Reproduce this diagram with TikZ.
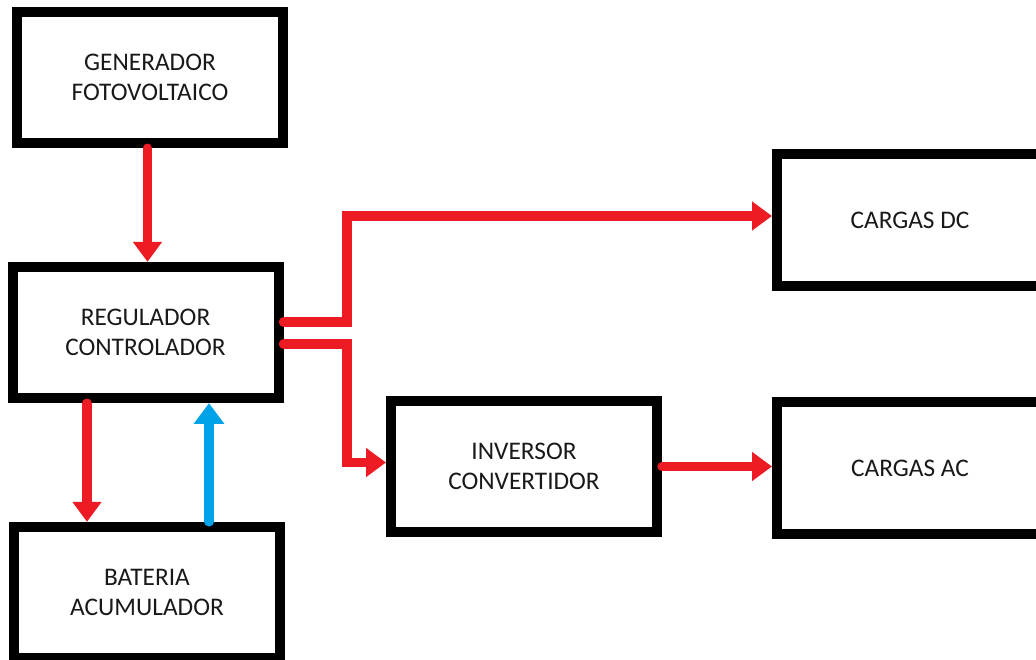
\documentclass[tikz,border=0pt]{standalone}
\usepackage{fontspec}
\setmainfont{Carlito}
\usepackage{tikz}
\usetikzlibrary{arrows.meta,positioning,calc}
\definecolor{rojo}{HTML}{ED1C24}
\definecolor{azul}{HTML}{00A2E8}

\begin{document}
\begin{tikzpicture}[yscale=-1, x=0.75pt, y=0.75pt,
  bloque/.style={draw=black, line width=7.5pt, fill=white, minimum width=199.5pt, minimum height=98.5pt,
    align=center, font=\fontsize{19}{22.5}\selectfont, text=black!90},
  flujo/.style={rojo, line width=7pt, line cap=round, -{Triangle[width=21pt, length=15pt]}},
  retorno/.style={azul, line width=7pt, line cap=round, -{Triangle[width=22pt, length=15.5pt]}}]
% page
\fill[white] (0,0) rectangle (1036,660);
\useasboundingbox (0,0) rectangle (1036,660);
% blocks
\node[bloque] (gen) at (150,77.5) {GENERADOR\\FOTOVOLTAICO};
\node[bloque] (reg) at (145.5,332.5) {REGULADOR\\CONTROLADOR};
\node[bloque] (bat) at (147,592.5) {BATERIA\\ACUMULADOR};
\node[bloque] (inv) at (524,466.5) {INVERSOR\\CONVERTIDOR};
\node[bloque] (dc) at (910,220) {CARGAS DC};
\node[bloque] (ac) at (910,468) {CARGAS AC};
% branch point
\coordinate (split) at (347,0);
% connectors
\draw[flujo] ($(gen.south)+(-2.5,0)$) -- ($(gen.south |- reg.north)+(-2.5,0)$);
\draw[flujo] ($(reg.south)+(-58.5,0)$) -- ($(reg.south |- bat.north)+(-58.5,0)$);
\draw[retorno] ($(bat.north)+(62,0)$) -- ($(bat.north |- reg.south)+(62,0)$);
\draw[flujo] ($(reg.east)+(0,-10.5)$) -| ($(split |- dc.west)+(0,-4)$) -- ($(dc.west)+(0,-4)$);
\draw[flujo] ($(reg.east)+(0,11.5)$) -| ($(split |- inv.west)+(0,-4)$) -- ($(inv.west)+(0,-4)$);
\draw[flujo] (inv.east) -- (inv.east -| ac.west);
\end{tikzpicture}
\end{document}
